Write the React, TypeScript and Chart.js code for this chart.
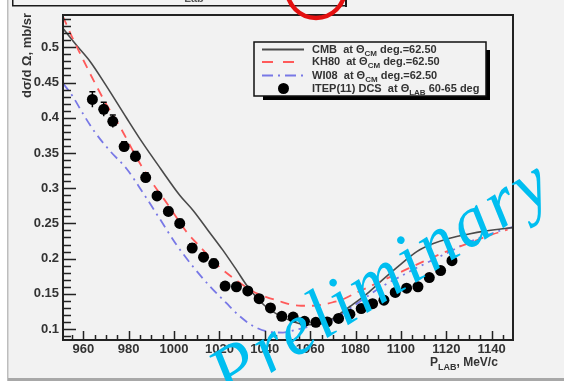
import React, { useEffect, useRef } from "react";
import { Chart, registerables } from "chart.js";

Chart.register(...registerables);

// ---- axis ranges & ticks ----
const xMin = 951.05;
const xMax = 1149.4;
const yMin = 0.0844;
const yMax = 0.5459;
const xTickValues = [960, 980, 1000, 1020, 1040, 1060, 1080, 1100, 1120, 1140];
const yTickValues = [0.1, 0.15, 0.2, 0.25, 0.3, 0.35, 0.4, 0.45, 0.5];
const yTickLabels = ["0.1", "0.15", "0.2", "0.25", "0.3", "0.35", "0.4", "0.45", "0.5"];

// ---- series ----
const seriesNames = ["CMB", "KH80", "WI08", "ITEP(11) DCS"];
const legendSub = ["CM", "CM", "CM", "LAB"];
const legendTail = ["deg.=62.50", "deg.=62.50", "deg.=62.50", "60-65 deg"];

const cmbX = [951, 957, 963, 970, 979, 986, 994, 1002.5, 1008.5, 1015, 1021.5, 1027.5, 1032.5, 1040, 1046, 1052, 1058, 1064, 1070, 1077.5, 1085, 1092, 1100, 1107, 1114, 1121.5, 1130, 1137, 1144, 1149.4];
const cmbY = [0.527, 0.503, 0.48, 0.446, 0.4, 0.365, 0.328, 0.29, 0.268, 0.24, 0.212, 0.184, 0.16, 0.133, 0.12, 0.111, 0.106, 0.107, 0.115, 0.132, 0.15, 0.17, 0.192, 0.21, 0.221, 0.229, 0.235, 0.239, 0.242, 0.244];

const kh80X = [951, 955, 960, 965, 970, 976, 985, 991, 997, 1005.5, 1012, 1020, 1028, 1035, 1041, 1046, 1051, 1056, 1061, 1066, 1070, 1075, 1080, 1090, 1100, 1110, 1120, 1130, 1140, 1147];
const kh80Y = [0.544, 0.515, 0.482, 0.45, 0.42, 0.388, 0.335, 0.305, 0.278, 0.238, 0.215, 0.188, 0.168, 0.153, 0.145, 0.14, 0.135, 0.133, 0.133, 0.135, 0.138, 0.143, 0.151, 0.166, 0.181, 0.196, 0.21, 0.222, 0.234, 0.241];

const wi08X = [951, 955, 960, 965, 972, 979, 986, 994, 1001, 1008.5, 1016, 1023, 1029, 1035, 1042, 1048, 1055, 1062, 1070, 1077, 1085, 1092, 1100, 1107, 1114, 1121, 1129, 1137, 1144, 1149.4];
const wi08Y = [0.449, 0.432, 0.405, 0.38, 0.352, 0.328, 0.295, 0.255, 0.22, 0.188, 0.16, 0.137, 0.118, 0.104, 0.096, 0.095, 0.1, 0.105, 0.113, 0.128, 0.146, 0.161, 0.175, 0.187, 0.198, 0.209, 0.222, 0.232, 0.24, 0.245];

const itepX = [964, 969, 973, 978, 983, 987.5, 992.5, 997.5, 1002.5, 1008, 1013, 1017.5, 1022.5, 1027.5, 1032.5, 1037.5, 1042.5, 1047.5, 1052.5, 1057.5, 1062.5, 1067.5, 1072.5, 1077.5, 1082.5, 1087.5, 1092.5, 1097.5, 1102.5, 1107.5, 1112.5, 1117.5, 1122.5];
const itepY = [0.426, 0.412, 0.395, 0.359, 0.345, 0.315, 0.289, 0.267, 0.25, 0.215, 0.202, 0.193, 0.161, 0.16, 0.154, 0.143, 0.13, 0.118, 0.117, 0.111, 0.1095, 0.11, 0.115, 0.121, 0.129, 0.136, 0.141, 0.152, 0.158, 0.16, 0.173, 0.183, 0.197];
const itepErr = [0.011, 0.01, 0.009, 0.007, 0.007, 0.007, 0.006, 0.006, 0.006, 0.006, 0.006, 0.006, 0.005, 0.005, 0.005, 0.005, 0.005, 0.005, 0.005, 0.005, 0.005, 0.005, 0.005, 0.005, 0.005, 0.005, 0.005, 0.005, 0.005, 0.005, 0.005, 0.005, 0.005];

const watermark = "Preliminary";
const topBoxText = "Lab";

const colors = {
  bg: "#f2f2f2",
  cmb: "#4a4a4a",
  kh80: "#ff5a5a",
  wi08: "#7878e6",
  ink: "#222222",
  text: "#333333",
  cyan: "rgb(0,190,240)",
};

const pts = (xs: number[], ys: number[]) => xs.map((x, i) => ({ x, y: ys[i] }));

const FONT = '"Liberation Sans", Arial, sans-serif';

function drawRich(ctx: CanvasRenderingContext2D, x: number, y: number, parts: { t: string; sub?: boolean }[], size: number) {
  let cx = x;
  for (const p of parts) {
    if (p.sub) {
      ctx.font = `bold ${Math.round(size * 0.72)}px ${FONT}`;
      ctx.fillText(p.t, cx, y + size * 0.38);
    } else {
      ctx.font = `bold ${size}px ${FONT}`;
      ctx.fillText(p.t, cx, y);
    }
    cx += ctx.measureText(p.t).width;
  }
  return cx;
}

const decorPlugin = {
  id: "decor",
  beforeDraw(chart: any) {
    const ctx = chart.ctx as CanvasRenderingContext2D;
    const { width, height } = chart;
    ctx.save();
    ctx.fillStyle = colors.bg;
    ctx.fillRect(0, 0, width, height);
    ctx.fillStyle = "#ffffff";
    ctx.fillRect(0, 0, 7, height);
    ctx.fillStyle = "#bdbdbd";
    ctx.fillRect(7, 0, 1.5, height);
    // bottom window bar
    ctx.fillStyle = "#a8a8a8";
    ctx.fillRect(8, 378, width - 8, 3);
    // top box remnant
    ctx.fillStyle = "#1a1a1a";
    ctx.fillRect(12, 0, 1.5, 6);
    ctx.fillRect(12, 5, 335, 1.5);
    ctx.fillRect(345, 0, 2, 7);
    ctx.fillStyle = "#555";
    ctx.font = `bold 11px ${FONT}`;
    ctx.textAlign = "center";
    ctx.textBaseline = "alphabetic";
    ctx.fillText(topBoxText, 194, 2);
    ctx.restore();
  },
  afterDatasetsDraw(chart: any) {
    const ctx = chart.ctx as CanvasRenderingContext2D;
    const xs = chart.scales.x;
    const ys = chart.scales.y;
    const a = chart.chartArea;
    ctx.save();
    // error bars
    ctx.strokeStyle = "#000";
    ctx.lineWidth = 1.5;
    itepX.forEach((xv, i) => {
      const px = xs.getPixelForValue(xv);
      const y1 = ys.getPixelForValue(itepY[i] + itepErr[i]);
      const y2 = ys.getPixelForValue(itepY[i] - itepErr[i]);
      ctx.beginPath();
      ctx.moveTo(px, y1);
      ctx.lineTo(px, y2);
      ctx.moveTo(px - 3, y1);
      ctx.lineTo(px + 3, y1);
      ctx.stroke();
    });
    // frame
    ctx.strokeStyle = colors.ink;
    ctx.lineWidth = 2;
    ctx.strokeRect(a.left, a.top, a.right - a.left, a.bottom - a.top);
    // y ticks (inward)
    ctx.lineWidth = 1.5;
    ctx.beginPath();
    for (let k = 9; k <= 54; k++) {
      const v = k / 100;
      const py = Math.round(ys.getPixelForValue(v)) + 0.5;
      const major = k % 5 === 0;
      ctx.moveTo(a.left, py);
      ctx.lineTo(a.left + (major ? 13 : 8), py);
    }
    // x ticks (inward)
    for (let v = 955; v <= 1145; v += 5) {
      const px = Math.round(xs.getPixelForValue(v)) + 0.5;
      const major = v % 20 === 0;
      ctx.moveTo(px, a.bottom);
      ctx.lineTo(px, a.bottom - (major ? 9 : 5));
    }
    ctx.stroke();

    // axis titles
    ctx.fillStyle = colors.text;
    ctx.textBaseline = "middle";
    ctx.textAlign = "left";
    drawRich(ctx, 430, 363, [{ t: "P" }, { t: "LAB", sub: true }, { t: ", MeV/c" }], 12);
    ctx.save();
    ctx.translate(27, 98);
    ctx.rotate(-Math.PI / 2);
    ctx.font = `bold 13px ${FONT}`;
    ctx.fillText("dσ/d Ω, mb/sr", 0, 0);
    ctx.restore();

    // legend
    const lx = 254, ly = 42, lw = 232, lh = 54;
    ctx.fillStyle = "#000";
    ctx.fillRect(lx + 9, ly + lh, lw - 5, 4);
    ctx.fillRect(lx + lw, ly + 8, 4, lh - 4);
    ctx.fillStyle = colors.bg;
    ctx.fillRect(lx, ly, lw, lh);
    ctx.strokeStyle = "#111";
    ctx.lineWidth = 1.5;
    ctx.strokeRect(lx, ly, lw, lh);
    const rows = [49.5, 62, 75.5, 88.5];
    const datasets = chart.data.datasets;
    for (let i = 0; i < 4; i++) {
      const ry = rows[i];
      const ds = datasets[i];
      ctx.save();
      if (i < 3) {
        ctx.strokeStyle = ds.borderColor;
        ctx.lineWidth = 2;
        ctx.setLineDash(i === 0 ? [] : i === 1 ? [11, 10] : [11, 5, 2, 5]);
        ctx.beginPath();
        ctx.moveTo(262, ry);
        ctx.lineTo(304, ry);
        ctx.stroke();
      } else {
        ctx.fillStyle = "#000";
        ctx.beginPath();
        ctx.arc(283.5, ry, 5.5, 0, Math.PI * 2);
        ctx.fill();
      }
      ctx.restore();
      ctx.fillStyle = colors.text;
      ctx.textAlign = "left";
      ctx.textBaseline = "middle";
      drawRich(
        ctx,
        312,
        ry,
        [{ t: ds.label + "  at " }, { t: "Θ" }, { t: legendSub[i], sub: true }, { t: " " + legendTail[i] }],
        11
      );
    }

    // watermark
    ctx.save();
    ctx.translate(228, 400);
    ctx.rotate((-32 * Math.PI) / 180);
    ctx.fillStyle = colors.cyan;
    ctx.font = `italic 72px "Liberation Serif", serif`;
    (ctx as any).letterSpacing = "4px";
    ctx.textAlign = "left";
    ctx.textBaseline = "alphabetic";
    ctx.fillText(watermark, 0, 0);
    ctx.restore();

    // red circle remnant
    ctx.strokeStyle = "#e31010";
    ctx.lineWidth = 4.5;
    ctx.beginPath();
    ctx.arc(316, -11, 29, 0, Math.PI * 2);
    ctx.stroke();
    ctx.restore();
  },
};

export default function App() {
  const ref = useRef<HTMLCanvasElement | null>(null);
  useEffect(() => {
    if (!ref.current) return;
    const chart = new Chart(ref.current, {
      type: "scatter",
      data: {
        datasets: [
          {
            label: seriesNames[0],
            data: pts(cmbX, cmbY),
            showLine: true,
            borderColor: colors.cmb,
            borderWidth: 1.6,
            pointRadius: 0,
            cubicInterpolationMode: "monotone",
            order: 3,
          },
          {
            label: seriesNames[1],
            data: pts(kh80X, kh80Y),
            showLine: true,
            borderColor: colors.kh80,
            borderWidth: 1.8,
            borderDash: [9, 7],
            pointRadius: 0,
            cubicInterpolationMode: "monotone",
            order: 2,
          },
          {
            label: seriesNames[2],
            data: pts(wi08X, wi08Y),
            showLine: true,
            borderColor: colors.wi08,
            borderWidth: 1.8,
            borderDash: [9, 5, 2, 5],
            pointRadius: 0,
            cubicInterpolationMode: "monotone",
            order: 4,
          },
          {
            label: seriesNames[3],
            data: pts(itepX, itepY),
            showLine: false,
            backgroundColor: "#000",
            borderColor: "#000",
            pointRadius: 5.5,
            pointBorderWidth: 0,
            order: 1,
          },
        ] as any,
      },
      options: {
        responsive: false,
        animation: false,
        events: [],
        layout: { padding: { left: 0, top: 15, right: 51, bottom: 0 } },
        plugins: { legend: { display: false }, tooltip: { enabled: false } },
        scales: {
          x: {
            type: "linear",
            min: xMin,
            max: xMax,
            grid: { display: false, drawTicks: false },
            border: { display: false },
            afterFit: (s: any) => {
              s.height = 41;
            },
            afterBuildTicks: (s: any) => {
              s.ticks = xTickValues.map((v) => ({ value: v }));
            },
            ticks: {
              padding: 2,
              color: colors.text,
              font: { family: FONT, size: 13, weight: "bold" },
              callback: (v: any) => String(v),
              maxRotation: 0,
            },
          },
          y: {
            type: "linear",
            min: yMin,
            max: yMax,
            grid: { display: false, drawTicks: false },
            border: { display: false },
            afterFit: (s: any) => {
              s.width = 63;
            },
            afterBuildTicks: (s: any) => {
              s.ticks = yTickValues.map((v) => ({ value: v }));
            },
            ticks: {
              padding: 4,
              color: colors.text,
              font: { family: FONT, size: 13, weight: "bold" },
              callback: (v: any) => {
                const i = yTickValues.findIndex((t) => Math.abs(t - v) < 1e-9);
                return i >= 0 ? yTickLabels[i] : "";
              },
            },
          },
        },
      } as any,
      plugins: [decorPlugin],
    });
    return () => chart.destroy();
  }, []);
  return (
    <div style={{ position: "fixed", left: 0, top: 0, width: 564, height: 381 }}>
      <canvas ref={ref} width={564} height={381} style={{ width: 564, height: 381, display: "block" }} />
    </div>
  );
}
